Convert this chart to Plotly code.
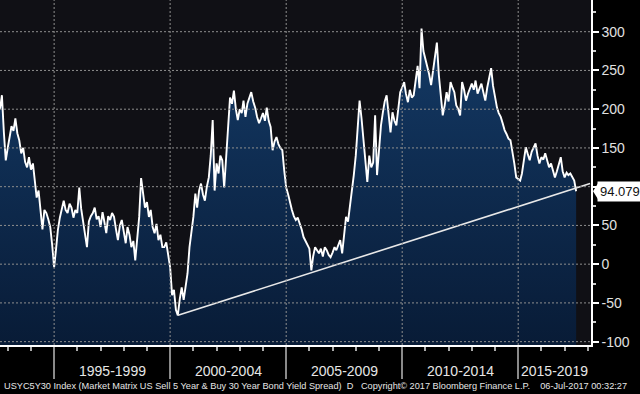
import pandas as pd
import plotly.graph_objects as go

# ---- data (monthly readings of USYC5Y30, bp) ----
start_month = "1992-09-01"
end_month = "2017-07-01"
spread_bp = [
    200, 218, 170, 134,                                   # 1992 Sep-Dec
    150, 165, 178, 172, 188, 169, 160, 143, 150, 132, 125, 138,  # 1993
    122, 130, 108, 86, 95, 73, 45, 70, 66, 58, 48, 25,          # 1994
    -4, 20, 44, 60, 72, 82, 70, 66, 78, 73, 60, 70,             # 1995
    66, 99, 72, 57, 40, 22, 55, 62, 66, 73, 58, 62,             # 1996
    48, 67, 55, 40, 62, 57, 66, 61, 45, 31, 50, 57,             # 1997
    42, 27, 48, 38, 22, 30, 5, 31, 61, 111, 88, 73,             # 1998
    80, 61, 70, 48, 40, 52, 31, 38, 22, 22, 28, 14,             # 1999
    -4, -40, -33, -59, -66, -45, -30, -46, -28, -12, 22, 40,    # 2000
    61, 91, 73, 95, 104, 90, 82, 100, 112, 140, 186, 95,        # 2001
    130, 117, 140, 134, 99, 138, 170, 215, 207, 224, 200, 186,  # 2002
    200, 195, 211, 190, 207, 215, 222, 210, 202, 190, 182, 188, # 2003
    195, 185, 202, 185, 177, 147, 158, 164, 155, 150, 147, 121, # 2004
    99, 90, 79, 70, 62, 57, 60, 53, 45, 35, 30, 27,             # 2005
    20, -8, 10, 22, 18, 14, 20, 10, 22, 18, 12, 9,              # 2006
    15, 22, 18, 25, 31, 14, 40, 61, 55, 73, 98, 115,            # 2007
    140, 179, 211, 188, 160, 137, 106, 140, 125, 131, 192, 115, # 2008
    150, 179, 195, 210, 218, 190, 170, 196, 185, 179, 200, 222, # 2009
    228, 235, 220, 209, 225, 215, 218, 235, 256, 227, 304, 275, # 2010
    265, 253, 245, 231, 250, 269, 286, 244, 220, 192, 205, 222, # 2011
    210, 235, 228, 222, 205, 200, 192, 235, 225, 211, 220, 228, # 2012
    233, 225, 237, 220, 228, 233, 222, 211, 228, 240, 253, 230, # 2013
    215, 202, 195, 190, 182, 173, 168, 162, 160, 147, 130, 112, # 2014
    110, 108, 117, 135, 151, 142, 134, 145, 150, 156, 140, 130, # 2015
    138, 135, 143, 132, 125, 130, 120, 112, 120, 128, 138, 120, # 2016
    112, 118, 115, 117, 112, 108, 94.079,                       # 2017 Jan-Jul
]
trend_dates = ["2000-05-04", "2018-02-06"]
trend_bp = [-66, 104]

y_ticks = [-100, -50, 0, 50, 100, 150, 200, 250, 300]
y_tick_text = ["-100", "-50", "0", "50", "", "150", "200", "250", "300"]  # 100 hidden by value box
period_bounds = ["1995-01-01", "2000-01-01", "2005-01-01", "2010-01-01", "2015-01-01"]
period_label_dates = ["1997-07-02", "2002-07-02", "2007-07-02", "2012-07-02", "2016-07-18"]
period_labels = ["1995-1999", "2000-2004", "2005-2009", "2010-2014", "2015-2019"]
last_label = "94.079"
footer = ("USYC5Y30 Index (Market Matrix US Sell 5 Year & Buy 30 Year Bond Yield Spread)  D"
          "   Copyright\u00a9 2017 Bloomberg Finance L.P.    06-Jul-2017 00:32:27")

dates = pd.date_range(start_month, end_month, freq="MS")
assert len(dates) == len(spread_bp)

Y_MIN, Y_MAX = -104.3, 340.9
X_RANGE = ["1992-09-01", "2018-02-20"]
FONT = "Arial, Liberation Sans, sans-serif"
GRID = "#8e8e8e"

fig = go.Figure()
fig.add_trace(go.Scatter(x=dates, y=[Y_MIN - 5] * len(dates), mode="lines",
                         line=dict(width=0), hoverinfo="skip", showlegend=False))
fig.add_trace(go.Scatter(
    x=dates, y=spread_bp, mode="lines", fill="tonexty",
    fillgradient=dict(type="vertical",
                      colorscale=[[0, "#081b36"], [1, "#143a66"]]),
    line=dict(color="white", width=1.9), showlegend=False))
fig.add_trace(go.Scatter(x=trend_dates, y=trend_bp, mode="lines",
                         line=dict(color="#e8e8e8", width=1.6), showlegend=False))

shapes = []
for v in y_ticks:
    shapes.append(dict(type="line", xref="paper", x0=0, x1=1, yref="y", y0=v, y1=v,
                       line=dict(color=GRID, width=1, dash="2px,2px"), layer="above"))
for d in period_bounds:
    shapes.append(dict(type="line", xref="x", x0=d, x1=d, yref="paper", y0=0, y1=1,
                       line=dict(color=GRID, width=1, dash="2px,2px"), layer="above"))

# label arrow for last value
plot_w, plot_h = 591, 345
yp = (spread_bp[-1] - Y_MIN) / (Y_MAX - Y_MIN)
tip = 593 / plot_w
base = 598 / plot_w
dh = 8 / plot_h
shapes.append(dict(type="path", xref="paper", yref="paper",
                   path=f"M {tip},{yp} L {base},{yp + dh} L {base},{yp - dh} Z",
                   fillcolor="white", line=dict(width=0), layer="above"))

annotations = []
for d, t in zip(period_label_dates, period_labels):
    annotations.append(dict(x=d, xref="x", y=-26 / plot_h, yref="paper", text=t,
                            showarrow=False, xanchor="center", yanchor="middle",
                            font=dict(family=FONT, size=14, color="#e6e6e6")))
annotations.append(dict(x=597 / plot_w, xref="paper", y=spread_bp[-1], yref="y",
                        text=last_label, showarrow=False, xanchor="left", yanchor="middle",
                        bgcolor="white", borderpad=2,
                        font=dict(family=FONT, size=13, color="#111111")))
annotations.append(dict(x=2 / plot_w, xref="paper", y=-41 / plot_h, yref="paper",
                        text=footer, showarrow=False, xanchor="left", yanchor="middle",
                        font=dict(family=FONT, size=9.2, color="#e6e6e6")))

fig.update_layout(
    width=640, height=394,
    margin=dict(l=0, r=49, t=0, b=49, autoexpand=False),
    paper_bgcolor="#000000", plot_bgcolor="#101015",
    shapes=shapes, annotations=annotations,
    xaxis=dict(type="date", range=X_RANGE, showgrid=False, zeroline=False,
               showline=True, linecolor="white", linewidth=1.5,
               tickmode="array", tickvals=period_bounds, showticklabels=False,
               ticks="outside", ticklen=32, tickwidth=1.5, tickcolor="#8a8a8a",
               minor=dict(dtick="M12", tick0="1993-01-01", ticks="outside",
                          ticklen=4, tickcolor="#aaaaaa", showgrid=False)),
    yaxis=dict(side="right", range=[Y_MIN, Y_MAX], showgrid=False, zeroline=False,
               showline=True, linecolor="white", linewidth=1.5,
               tickmode="array", tickvals=y_ticks, ticktext=y_tick_text,
               ticks="outside", ticklen=6, tickwidth=2, tickcolor="white",
               tickfont=dict(family=FONT, size=14, color="#e0e0e0"),
               minor=dict(dtick=25, tick0=0, ticks="outside", ticklen=3,
                          tickcolor="#cccccc", showgrid=False)),
)

fig.write_html("out.html", config={"displayModeBar": False},
               post_script="document.body.style.margin='0';")
